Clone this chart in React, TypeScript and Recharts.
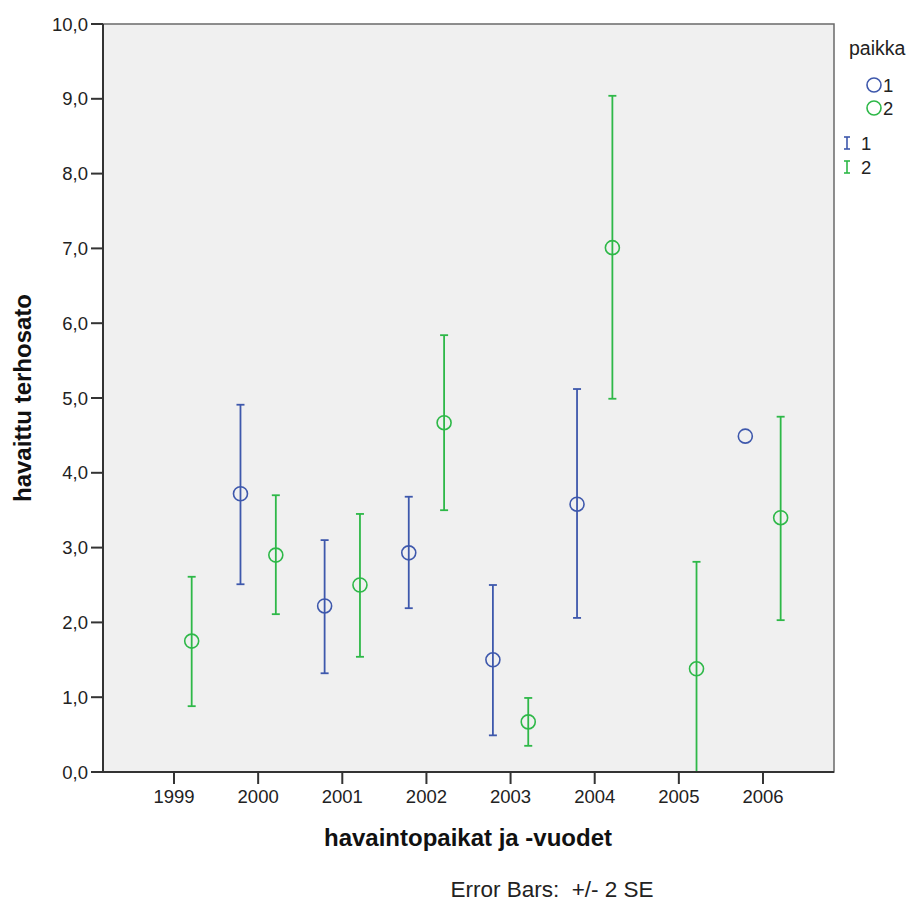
import {
  ScatterChart,
  Scatter,
  XAxis,
  YAxis,
  ErrorBar,
  ReferenceArea,
} from 'recharts';

// havaintovuodet
const years = [1999, 2000, 2001, 2002, 2003, 2004, 2005, 2006];

// paikka 1 (sininen): keskiarvo, alaraja, yläraja (+/- 2 SE)
const mean1 = [null, 3.72, 2.22, 2.93, 1.5, 3.58, null, 4.49];
const low1 = [null, 2.51, 1.32, 2.19, 0.49, 2.06, null, null];
const high1 = [null, 4.91, 3.1, 3.68, 2.5, 5.12, null, null];

// paikka 2 (vihreä)
const mean2 = [1.75, 2.9, 2.5, 4.67, 0.67, 7.01, 1.38, 3.4];
const low2 = [0.88, 2.11, 1.54, 3.5, 0.35, 4.99, 0.0, 2.03];
const high2 = [2.61, 3.7, 3.45, 5.84, 0.99, 9.04, 2.81, 4.75];

const yTicks = [0, 1, 2, 3, 4, 5, 6, 7, 8, 9, 10];

const BLUE = '#3e58ac';
const GREEN = '#2eb848';
const FONT = '"Liberation Sans", Arial, sans-serif';
const X_MIN = 1998.156;
const X_MAX = 2006.844;
const OFFSET = 0.21;

function rakenna(mean: (number | null)[], low: (number | null)[], high: (number | null)[], shift: number) {
  return years
    .map((yr, i) => {
      const m = mean[i];
      if (m == null) return null;
      const lo = low[i];
      const hi = high[i];
      return {
        x: yr + shift,
        y: m,
        err: lo == null || hi == null ? null : [m - lo, hi - m],
      };
    })
    .filter((d) => d != null);
}

const data1 = rakenna(mean1, low1, high1, -OFFSET);
const data2 = rakenna(mean2, low2, high2, OFFSET);

const ympyra = (color: string) => (props: any) => (
  <circle cx={props.cx} cy={props.cy} r={7} fill="none" stroke={color} strokeWidth={1.6} />
);

export default function App() {
  return (
    <div style={{ position: 'absolute', left: 0, top: 0, width: 919, height: 903, background: '#fff', fontFamily: FONT }}>
      <ScatterChart width={919} height={903} margin={{ top: 24, right: 85, bottom: 91, left: 0 }}>
        <ReferenceArea x1={X_MIN} x2={X_MAX} y1={0} y2={10} fill="#f0f0f0" fillOpacity={1} stroke="#6a6a6a" strokeWidth={1.5} />
        <XAxis
          type="number"
          dataKey="x"
          domain={[X_MIN, X_MAX]}
          ticks={years}
          allowDataOverflow
          height={40}
          tickSize={12}
          tickMargin={6}
          axisLine={{ stroke: '#333', strokeWidth: 2 }}
          tickLine={{ stroke: '#333', strokeWidth: 2 }}
          tick={{ fontSize: 18.5, fill: '#222', fontFamily: FONT }}
        />
        <YAxis
          type="number"
          dataKey="y"
          domain={[0, 10]}
          ticks={yTicks}
          allowDataOverflow
          width={103}
          tickSize={12}
          tickMargin={3}
          axisLine={{ stroke: '#333', strokeWidth: 2 }}
          tickLine={{ stroke: '#333', strokeWidth: 2 }}
          tick={{ fontSize: 18.5, fill: '#222', fontFamily: FONT }}
          tickFormatter={(v) => v.toFixed(1).replace('.', ',')}
        />
        <Scatter data={data1} fill={BLUE} shape={ympyra(BLUE)} isAnimationActive={false}>
          <ErrorBar dataKey="err" direction="y" width={4} stroke={BLUE} strokeWidth={1.8} />
        </Scatter>
        <Scatter data={data2} fill={GREEN} shape={ympyra(GREEN)} isAnimationActive={false}>
          <ErrorBar dataKey="err" direction="y" width={4} stroke={GREEN} strokeWidth={1.8} />
        </Scatter>
      </ScatterChart>

      <svg width={919} height={903} style={{ position: 'absolute', left: 0, top: 0, pointerEvents: 'none' }} fontFamily={FONT}>
        <text x={22} y={398} transform="rotate(-90 22 398)" textAnchor="middle" dominantBaseline="central" fontSize={24} fontWeight="bold" fill="#111">
          havaittu terhosato
        </text>
        <text x={468} y={846} textAnchor="middle" fontSize={24} fontWeight="bold" fill="#111">
          havaintopaikat ja -vuodet
        </text>
        <text x={552} y={897} textAnchor="middle" fontSize={22.5} fill="#222" style={{ whiteSpace: 'pre' }}>
          Error Bars:  +/- 2 SE
        </text>

        <text x={849} y={55} fontSize={19.5} fill="#222">paikka</text>
        <circle cx={874} cy={85} r={7} fill="none" stroke={BLUE} strokeWidth={1.6} />
        <text x={883} y={92} fontSize={18.5} fill="#222">1</text>
        <circle cx={874} cy={108} r={7} fill="none" stroke={GREEN} strokeWidth={1.6} />
        <text x={883} y={115} fontSize={18.5} fill="#222">2</text>

        <g stroke={BLUE} strokeWidth={1.6}>
          <line x1={847} y1={137} x2={847} y2={149} />
          <line x1={844} y1={137} x2={850} y2={137} />
          <line x1={844} y1={149} x2={850} y2={149} />
        </g>
        <text x={861} y={150} fontSize={18.5} fill="#222">1</text>
        <g stroke={GREEN} strokeWidth={1.6}>
          <line x1={847} y1={161} x2={847} y2={173} />
          <line x1={844} y1={161} x2={850} y2={161} />
          <line x1={844} y1={173} x2={850} y2={173} />
        </g>
        <text x={861} y={174} fontSize={18.5} fill="#222">2</text>
      </svg>
    </div>
  );
}
